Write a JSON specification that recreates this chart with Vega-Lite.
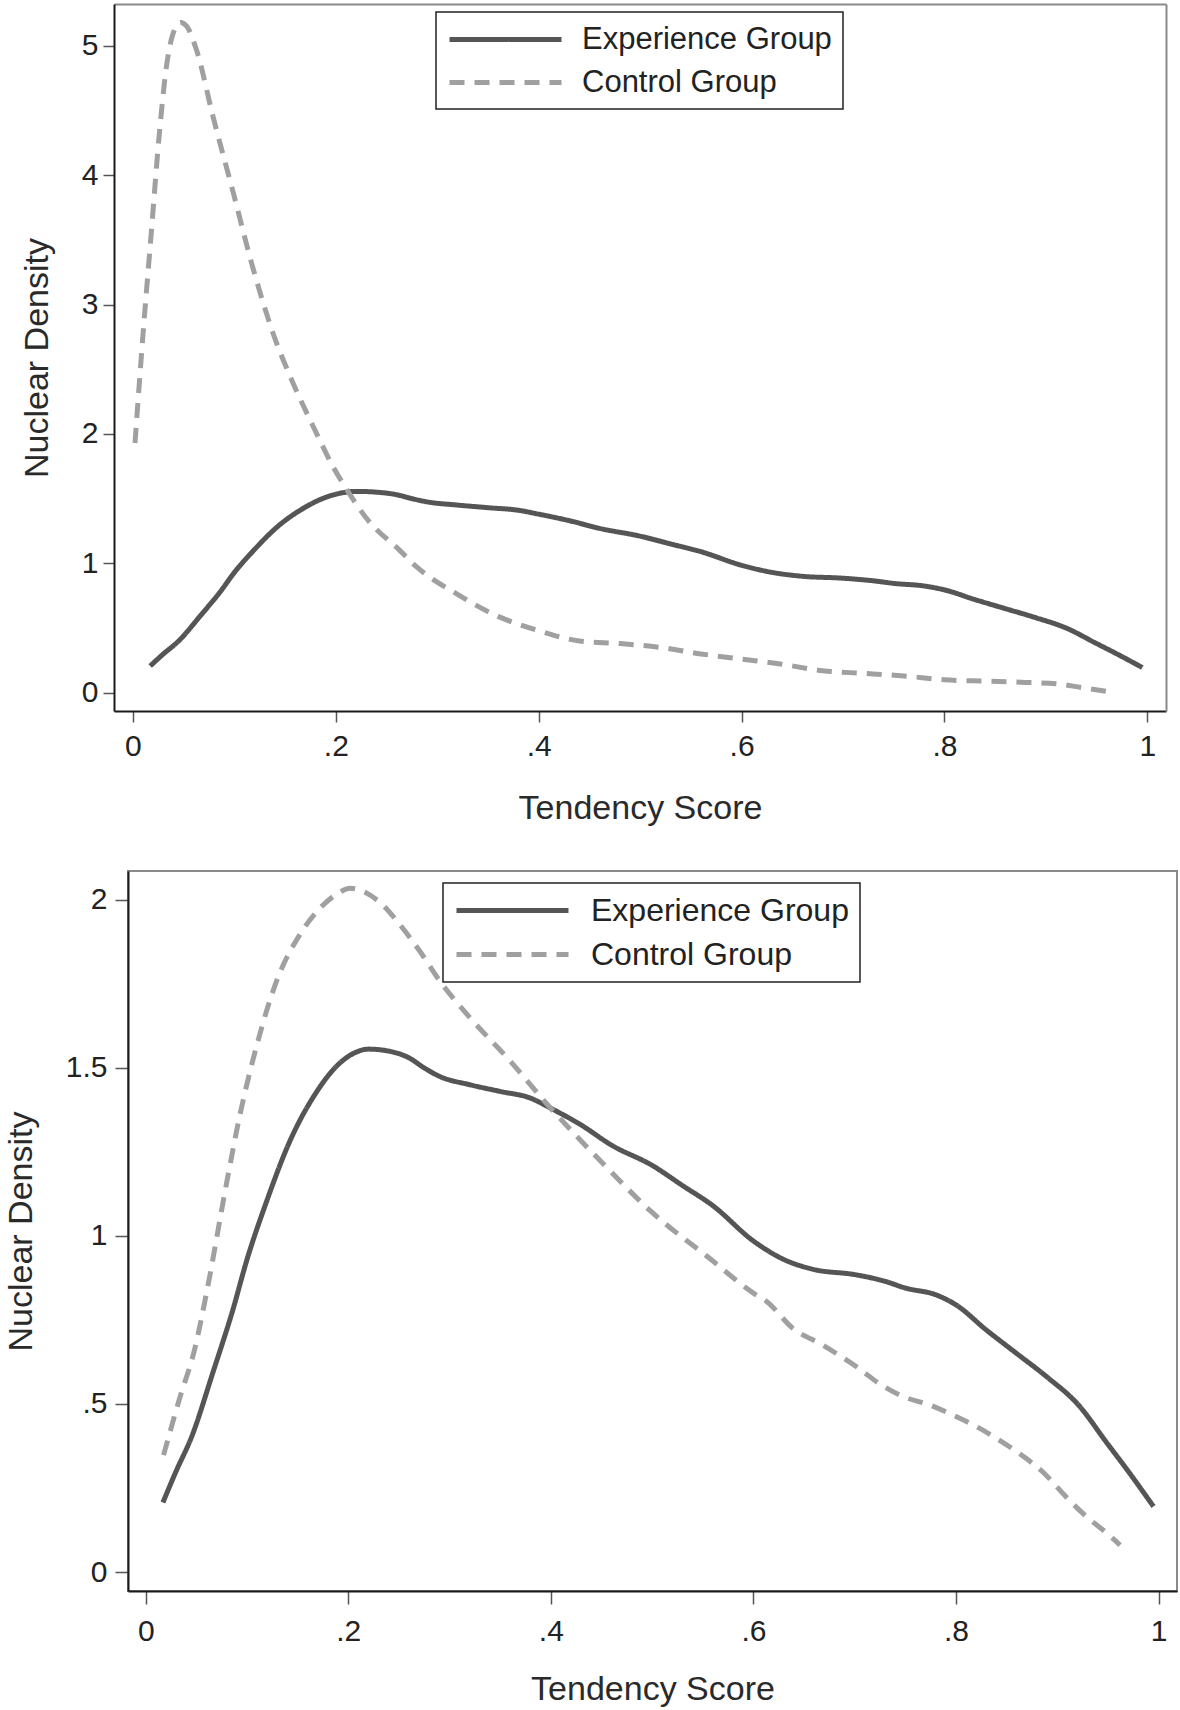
{
  "$schema": "https://vega.github.io/schema/vega-lite/v6.json",
  "background": "white",
  "padding": {"left": 3, "top": 4, "right": 2, "bottom": 2},
  "spacing": 45,
  "config": {
    "font": "Liberation Sans",
    "view": {"stroke": "#8a8a8a", "strokeWidth": 2},
    "axis": {
      "grid": false,
      "domainColor": "#1a1a1a",
      "domainWidth": 2,
      "tickColor": "#555555",
      "tickSize": 11,
      "tickWidth": 1.5,
      "labelFont": "Liberation Sans",
      "labelFontSize": 30,
      "labelColor": "#222222",
      "labelFlush": false,
      "labelOverlap": false,
      "titleFont": "Liberation Sans",
      "titleFontSize": 34,
      "titleFontWeight": "normal",
      "titleColor": "#2a2a2a"
    },
    "legend": {
      "title": null,
      "labelFont": "Liberation Sans",
      "labelFontSize": 31,
      "labelColor": "#222222",
      "labelLimit": 400,
      "strokeColor": "#222222",
      "strokeWidth": 1.5,
      "fillColor": "white",
      "padding": 11,
      "rowPadding": 11,
      "symbolType": "M-4,0H4",
      "symbolSize": 784,
      "symbolStrokeWidth": 5,
      "symbolOffset": 42,
      "labelOffset": 60
    }
  },
  "datasets": {
    "top": [
      {"score": 0.017, "density": 0.207, "group": "Experience Group"},
      {"score": 0.03, "density": 0.30, "group": "Experience Group"},
      {"score": 0.045, "density": 0.40, "group": "Experience Group"},
      {"score": 0.067, "density": 0.60, "group": "Experience Group"},
      {"score": 0.086, "density": 0.78, "group": "Experience Group"},
      {"score": 0.1, "density": 0.93, "group": "Experience Group"},
      {"score": 0.119, "density": 1.10, "group": "Experience Group"},
      {"score": 0.142, "density": 1.28, "group": "Experience Group"},
      {"score": 0.169, "density": 1.43, "group": "Experience Group"},
      {"score": 0.19, "density": 1.51, "group": "Experience Group"},
      {"score": 0.205, "density": 1.543, "group": "Experience Group"},
      {"score": 0.22, "density": 1.556, "group": "Experience Group"},
      {"score": 0.24, "density": 1.55, "group": "Experience Group"},
      {"score": 0.26, "density": 1.53, "group": "Experience Group"},
      {"score": 0.275, "density": 1.50, "group": "Experience Group"},
      {"score": 0.29, "density": 1.475, "group": "Experience Group"},
      {"score": 0.32, "density": 1.45, "group": "Experience Group"},
      {"score": 0.35, "density": 1.43, "group": "Experience Group"},
      {"score": 0.38, "density": 1.41, "group": "Experience Group"},
      {"score": 0.40, "density": 1.38, "group": "Experience Group"},
      {"score": 0.43, "density": 1.33, "group": "Experience Group"},
      {"score": 0.46, "density": 1.27, "group": "Experience Group"},
      {"score": 0.50, "density": 1.21, "group": "Experience Group"},
      {"score": 0.53, "density": 1.15, "group": "Experience Group"},
      {"score": 0.56, "density": 1.09, "group": "Experience Group"},
      {"score": 0.60, "density": 0.985, "group": "Experience Group"},
      {"score": 0.63, "density": 0.93, "group": "Experience Group"},
      {"score": 0.66, "density": 0.90, "group": "Experience Group"},
      {"score": 0.70, "density": 0.885, "group": "Experience Group"},
      {"score": 0.73, "density": 0.865, "group": "Experience Group"},
      {"score": 0.75, "density": 0.845, "group": "Experience Group"},
      {"score": 0.78, "density": 0.825, "group": "Experience Group"},
      {"score": 0.80, "density": 0.795, "group": "Experience Group"},
      {"score": 0.83, "density": 0.72, "group": "Experience Group"},
      {"score": 0.86, "density": 0.65, "group": "Experience Group"},
      {"score": 0.89, "density": 0.58, "group": "Experience Group"},
      {"score": 0.92, "density": 0.50, "group": "Experience Group"},
      {"score": 0.95, "density": 0.38, "group": "Experience Group"},
      {"score": 0.97, "density": 0.30, "group": "Experience Group"},
      {"score": 0.995, "density": 0.195, "group": "Experience Group"},
      {"score": 0.002, "density": 1.93, "group": "Control Group"},
      {"score": 0.01, "density": 2.78, "group": "Control Group"},
      {"score": 0.018, "density": 3.55, "group": "Control Group"},
      {"score": 0.026, "density": 4.32, "group": "Control Group"},
      {"score": 0.033, "density": 4.84, "group": "Control Group"},
      {"score": 0.039, "density": 5.08, "group": "Control Group"},
      {"score": 0.047, "density": 5.18, "group": "Control Group"},
      {"score": 0.053, "density": 5.15, "group": "Control Group"},
      {"score": 0.0625, "density": 4.97, "group": "Control Group"},
      {"score": 0.079, "density": 4.45, "group": "Control Group"},
      {"score": 0.099, "density": 3.86, "group": "Control Group"},
      {"score": 0.118, "density": 3.29, "group": "Control Group"},
      {"score": 0.138, "density": 2.78, "group": "Control Group"},
      {"score": 0.158, "density": 2.39, "group": "Control Group"},
      {"score": 0.18, "density": 2.02, "group": "Control Group"},
      {"score": 0.197, "density": 1.75, "group": "Control Group"},
      {"score": 0.21, "density": 1.58, "group": "Control Group"},
      {"score": 0.23, "density": 1.35, "group": "Control Group"},
      {"score": 0.263, "density": 1.10, "group": "Control Group"},
      {"score": 0.28, "density": 0.97, "group": "Control Group"},
      {"score": 0.32, "density": 0.76, "group": "Control Group"},
      {"score": 0.36, "density": 0.59, "group": "Control Group"},
      {"score": 0.40, "density": 0.48, "group": "Control Group"},
      {"score": 0.44, "density": 0.40, "group": "Control Group"},
      {"score": 0.48, "density": 0.38, "group": "Control Group"},
      {"score": 0.52, "density": 0.35, "group": "Control Group"},
      {"score": 0.56, "density": 0.30, "group": "Control Group"},
      {"score": 0.60, "density": 0.26, "group": "Control Group"},
      {"score": 0.64, "density": 0.22, "group": "Control Group"},
      {"score": 0.68, "density": 0.17, "group": "Control Group"},
      {"score": 0.72, "density": 0.15, "group": "Control Group"},
      {"score": 0.76, "density": 0.13, "group": "Control Group"},
      {"score": 0.80, "density": 0.10, "group": "Control Group"},
      {"score": 0.84, "density": 0.09, "group": "Control Group"},
      {"score": 0.88, "density": 0.08, "group": "Control Group"},
      {"score": 0.91, "density": 0.07, "group": "Control Group"},
      {"score": 0.935, "density": 0.04, "group": "Control Group"},
      {"score": 0.96, "density": 0.01, "group": "Control Group"}
    ],
    "bottom": [
      {"score": 0.017, "density": 0.207, "group": "Experience Group"},
      {"score": 0.03, "density": 0.30, "group": "Experience Group"},
      {"score": 0.045, "density": 0.40, "group": "Experience Group"},
      {"score": 0.067, "density": 0.60, "group": "Experience Group"},
      {"score": 0.086, "density": 0.78, "group": "Experience Group"},
      {"score": 0.1, "density": 0.93, "group": "Experience Group"},
      {"score": 0.119, "density": 1.10, "group": "Experience Group"},
      {"score": 0.142, "density": 1.28, "group": "Experience Group"},
      {"score": 0.169, "density": 1.43, "group": "Experience Group"},
      {"score": 0.19, "density": 1.51, "group": "Experience Group"},
      {"score": 0.205, "density": 1.543, "group": "Experience Group"},
      {"score": 0.22, "density": 1.556, "group": "Experience Group"},
      {"score": 0.24, "density": 1.55, "group": "Experience Group"},
      {"score": 0.26, "density": 1.53, "group": "Experience Group"},
      {"score": 0.275, "density": 1.50, "group": "Experience Group"},
      {"score": 0.29, "density": 1.475, "group": "Experience Group"},
      {"score": 0.32, "density": 1.45, "group": "Experience Group"},
      {"score": 0.35, "density": 1.43, "group": "Experience Group"},
      {"score": 0.38, "density": 1.41, "group": "Experience Group"},
      {"score": 0.40, "density": 1.38, "group": "Experience Group"},
      {"score": 0.43, "density": 1.33, "group": "Experience Group"},
      {"score": 0.46, "density": 1.27, "group": "Experience Group"},
      {"score": 0.50, "density": 1.21, "group": "Experience Group"},
      {"score": 0.53, "density": 1.15, "group": "Experience Group"},
      {"score": 0.56, "density": 1.09, "group": "Experience Group"},
      {"score": 0.60, "density": 0.985, "group": "Experience Group"},
      {"score": 0.63, "density": 0.93, "group": "Experience Group"},
      {"score": 0.66, "density": 0.90, "group": "Experience Group"},
      {"score": 0.70, "density": 0.885, "group": "Experience Group"},
      {"score": 0.73, "density": 0.865, "group": "Experience Group"},
      {"score": 0.75, "density": 0.845, "group": "Experience Group"},
      {"score": 0.78, "density": 0.825, "group": "Experience Group"},
      {"score": 0.80, "density": 0.795, "group": "Experience Group"},
      {"score": 0.83, "density": 0.72, "group": "Experience Group"},
      {"score": 0.86, "density": 0.65, "group": "Experience Group"},
      {"score": 0.89, "density": 0.58, "group": "Experience Group"},
      {"score": 0.92, "density": 0.50, "group": "Experience Group"},
      {"score": 0.95, "density": 0.38, "group": "Experience Group"},
      {"score": 0.97, "density": 0.30, "group": "Experience Group"},
      {"score": 0.995, "density": 0.195, "group": "Experience Group"},
      {"score": 0.0176, "density": 0.348, "group": "Control Group"},
      {"score": 0.0335, "density": 0.517, "group": "Control Group"},
      {"score": 0.0486, "density": 0.666, "group": "Control Group"},
      {"score": 0.06, "density": 0.83, "group": "Control Group"},
      {"score": 0.08, "density": 1.16, "group": "Control Group"},
      {"score": 0.093, "density": 1.36, "group": "Control Group"},
      {"score": 0.109, "density": 1.56, "group": "Control Group"},
      {"score": 0.129, "density": 1.757, "group": "Control Group"},
      {"score": 0.152, "density": 1.896, "group": "Control Group"},
      {"score": 0.172, "density": 1.975, "group": "Control Group"},
      {"score": 0.19, "density": 2.02, "group": "Control Group"},
      {"score": 0.2015, "density": 2.035, "group": "Control Group"},
      {"score": 0.215, "density": 2.025, "group": "Control Group"},
      {"score": 0.234, "density": 1.985, "group": "Control Group"},
      {"score": 0.251, "density": 1.926, "group": "Control Group"},
      {"score": 0.27, "density": 1.85, "group": "Control Group"},
      {"score": 0.29, "density": 1.76, "group": "Control Group"},
      {"score": 0.32, "density": 1.65, "group": "Control Group"},
      {"score": 0.36, "density": 1.52, "group": "Control Group"},
      {"score": 0.394, "density": 1.40, "group": "Control Group"},
      {"score": 0.45, "density": 1.22, "group": "Control Group"},
      {"score": 0.50, "density": 1.07, "group": "Control Group"},
      {"score": 0.556, "density": 0.935, "group": "Control Group"},
      {"score": 0.60, "density": 0.83, "group": "Control Group"},
      {"score": 0.613, "density": 0.805, "group": "Control Group"},
      {"score": 0.639, "density": 0.725, "group": "Control Group"},
      {"score": 0.668, "density": 0.676, "group": "Control Group"},
      {"score": 0.704, "density": 0.606, "group": "Control Group"},
      {"score": 0.726, "density": 0.557, "group": "Control Group"},
      {"score": 0.748, "density": 0.522, "group": "Control Group"},
      {"score": 0.774, "density": 0.497, "group": "Control Group"},
      {"score": 0.797, "density": 0.467, "group": "Control Group"},
      {"score": 0.823, "density": 0.428, "group": "Control Group"},
      {"score": 0.845, "density": 0.388, "group": "Control Group"},
      {"score": 0.867, "density": 0.343, "group": "Control Group"},
      {"score": 0.887, "density": 0.294, "group": "Control Group"},
      {"score": 0.907, "density": 0.229, "group": "Control Group"},
      {"score": 0.925, "density": 0.175, "group": "Control Group"},
      {"score": 0.953, "density": 0.105, "group": "Control Group"},
      {"score": 0.962, "density": 0.08, "group": "Control Group"}
    ]
  },
  "vconcat": [
    {
      "width": 1038,
      "height": 707,
      "data": {"name": "top"},
      "view": {"stroke": null},
      "layer": [
        {
          "transform": [{"filter": "datum.group == 'Experience Group'"}],
          "mark": {"type": "line", "strokeWidth": 5, "interpolate": "monotone"},
          "encoding": {
            "x": {
              "field": "score", "type": "quantitative",
              "scale": {"domain": [-0.0187, 1.0184], "range": [-14, 1038], "nice": false, "zero": false},
              "axis": {"values": [0, 0.2, 0.4, 0.6, 0.8, 1], "labelExpr": "datum.value == 0 ? '0' : replace(toString(datum.value), '0.', '.')", "title": "Tendency Score", "labelPadding": 9, "titlePadding": 30}
            },
            "y": {
              "field": "density", "type": "quantitative",
              "scale": {"domain": [-0.141, 5.322], "nice": false, "zero": false},
              "axis": {"values": [0, 1, 2, 3, 4, 5], "title": "Nuclear Density", "offset": 14, "labelPadding": 5, "titlePadding": 27}
            },
            "color": {
              "field": "group", "type": "nominal",
              "scale": {"domain": ["Experience Group", "Control Group"], "range": ["#555555", "#a0a0a0"]},
              "legend": {"orient": "none", "legendX": 308, "legendY": 8, "title": null}
            },
            "strokeDash": {
              "field": "group", "type": "nominal",
              "scale": {"domain": ["Experience Group", "Control Group"], "range": [[1, 0], [15, 10]]},
              "legend": {"orient": "none", "legendX": 308, "legendY": 8, "title": null}
            }
          }
        },
        {
          "transform": [{"filter": "datum.group == 'Control Group'"}],
          "mark": {"type": "line", "strokeWidth": 5, "interpolate": "monotone"},
          "encoding": {
            "x": {
              "field": "score", "type": "quantitative",
              "scale": {"domain": [-0.0187, 1.0184], "range": [-14, 1038], "nice": false, "zero": false},
              "axis": {"orient": "top", "ticks": false, "labels": false, "title": null, "domainColor": "#8a8a8a", "domainWidth": 2}
            },
            "y": {
              "field": "density", "type": "quantitative",
              "scale": {"domain": [-0.141, 5.322], "nice": false, "zero": false},
              "axis": {"orient": "right", "ticks": false, "labels": false, "title": null, "domainColor": "#8a8a8a", "domainWidth": 2}
            },
            "color": {
              "field": "group", "type": "nominal",
              "scale": {"domain": ["Experience Group", "Control Group"], "range": ["#555555", "#a0a0a0"]},
              "legend": {"orient": "none", "legendX": 308, "legendY": 8, "title": null}
            },
            "strokeDash": {
              "field": "group", "type": "nominal",
              "scale": {"domain": ["Experience Group", "Control Group"], "range": [[1, 0], [15, 10]]},
              "legend": {"orient": "none", "legendX": 308, "legendY": 8, "title": null}
            }
          }
        }
      ],
      "resolve": {"axis": {"x": "independent", "y": "independent"}}
    },
    {
      "width": 1049,
      "height": 720,
      "data": {"name": "bottom"},
      "mark": {"type": "line", "strokeWidth": 5, "interpolate": "monotone"},
      "encoding": {
        "x": {
          "field": "score", "type": "quantitative",
          "scale": {"domain": [-0.0175, 1.0182], "nice": false, "zero": false},
          "axis": {"values": [0, 0.2, 0.4, 0.6, 0.8, 1], "labelExpr": "datum.value == 0 ? '0' : replace(toString(datum.value), '0.', '.')", "title": "Tendency Score", "tickSize": 13, "labelPadding": 12, "titlePadding": 26}
        },
        "y": {
          "field": "density", "type": "quantitative",
          "scale": {"domain": [-0.0565, 2.086], "nice": false, "zero": false},
          "axis": {"values": [0, 0.5, 1, 1.5, 2], "labelExpr": "datum.value == 0 ? '0' : replace(toString(datum.value), '0.', '.')", "title": "Nuclear Density", "tickSize": 13, "labelPadding": 8, "titlePadding": 27}
        },
        "color": {
          "field": "group", "type": "nominal",
          "scale": {"domain": ["Experience Group", "Control Group"], "range": ["#555555", "#a0a0a0"]},
          "legend": {"orient": "none", "legendX": 315, "legendY": 12, "title": null, "labelFontSize": 32, "labelOffset": 62}
        },
        "strokeDash": {
          "field": "group", "type": "nominal",
          "scale": {"domain": ["Experience Group", "Control Group"], "range": [[1, 0], [15, 10]]},
          "legend": {"orient": "none", "legendX": 315, "legendY": 12, "title": null, "labelFontSize": 32, "labelOffset": 62}
        }
      }
    }
  ],
  "resolve": {"scale": {"color": "independent", "strokeDash": "independent"}, "legend": {"color": "independent", "strokeDash": "independent"}}
}
